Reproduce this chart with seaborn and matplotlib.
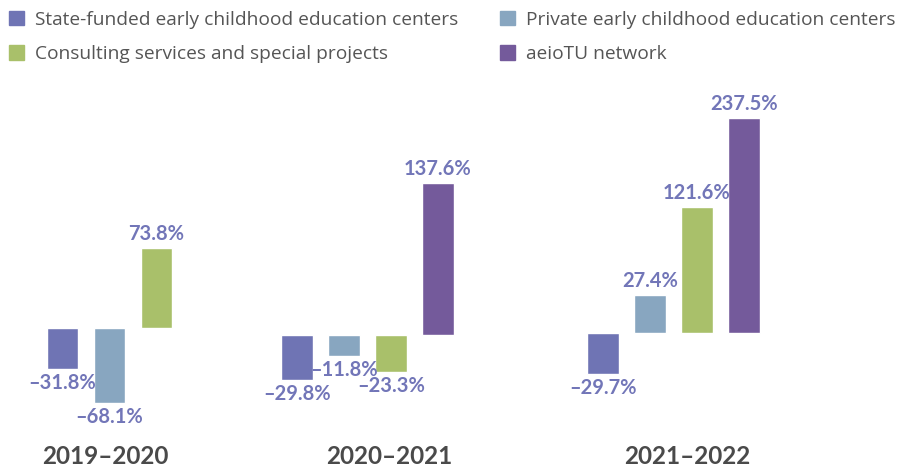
import matplotlib
matplotlib.use("Agg")
import matplotlib.pyplot as plt
from matplotlib.patches import Patch
import numpy as np
import pandas as pd
import seaborn as sns

# ---- data ----
series = ["State-funded early childhood education centers",
          "Private early childhood education centers",
          "Consulting services and special projects",
          "aeioTU network"]
periods = ["2019–2020", "2020–2021", "2021–2022"]
state_funded = [-31.8, -29.8, -29.7]
private = [-68.1, -11.8, 27.4]
consulting = [73.8, -23.3, 121.6]
aeiotu = [np.nan, 137.6, 237.5]

colors = ["#6f74b4", "#88a6c0", "#a9c06a", "#745a9b"]
label_color = "#7276b8"
text_color = "#555555"

rows = []
for i, p in enumerate(periods):
    for s, vals in zip(series, [state_funded, private, consulting, aeiotu]):
        rows.append({"period": p, "series": s, "value": vals[i]})
df = pd.DataFrame(rows)

sns.set_theme(style="white")
plt.rcParams["font.family"] = ["Lato", "DejaVu Sans"]

W, H = 914, 470
fig = plt.figure(figsize=(W / 100, H / 100), dpi=100)

# compressed (power) value scale, as in the infographic
POW = 0.8
def fwd(v):
    v = np.asarray(v, dtype=float)
    return np.sign(v) * np.abs(v) ** POW
def inv(u):
    u = np.asarray(u, dtype=float)
    return np.sign(u) * np.abs(u) ** (1 / POW)

# per-panel layout (pixels): left edge, baseline, px per scaled unit
panels = [(39, 328, 2.55), (273.5, 335, 2.95), (579.5, 333, 2.7)]
ax_top, ax_bot = 95, 425
pitch = 47

def fmt(v):
    s = f"{abs(v):.1f}%"
    return ("–" + s) if v < 0 else s

for (left, base, k), p in zip(panels, periods):
    ax = fig.add_axes([left / W, 1 - ax_bot / H, 4 * pitch / W, (ax_bot - ax_top) / H])
    sub = df[df["period"] == p].dropna()
    sns.barplot(data=sub, x="series", y="value", hue="series", order=series,
                hue_order=series, palette=colors, width=0.68, legend=False,
                ax=ax, saturation=1, errorbar=None)
    ax.set_yscale("function", functions=(fwd, inv))
    ax.set_xlim(-0.5, 3.5)
    ax.set_ylim(float(inv(-(ax_bot - base) / k)), float(inv((base - ax_top) / k)))
    for bar in ax.patches:
        h = bar.get_height()
        if h is None or np.isnan(h):
            continue
        x = bar.get_x() + bar.get_width() / 2
        ax.annotate(fmt(h), (x, h), xytext=(0, 3 if h >= 0 else -3),
                    textcoords="offset points", ha="center",
                    va="bottom" if h >= 0 else "top",
                    color=label_color, fontsize=14.5, fontweight="bold",
                    annotation_clip=False)
    ax.axis("off")

# period labels
label_x = [105, 389, 687]
for x, p in zip(label_x, periods):
    fig.text(x / W, 1 - 457 / H, p, ha="center", va="center",
             fontsize=17.5, color="#4a4a4a", fontweight="bold")

handles = [Patch(color=c) for c in colors]
order = [0, 2, 1, 3]
fig.legend([handles[i] for i in order], [series[i] for i in order], ncol=2,
           loc="upper left", bbox_to_anchor=(1 / W, 1 - 3 / H), frameon=False,
           prop={"family": ["Open Sans", "DejaVu Sans"], "size": 13.8},
           labelcolor=text_color, handlelength=0.8,
           handleheight=0.8, handletextpad=0.55, columnspacing=2.2,
           labelspacing=0.85, borderaxespad=0)

fig.savefig("out.png", dpi=100)
